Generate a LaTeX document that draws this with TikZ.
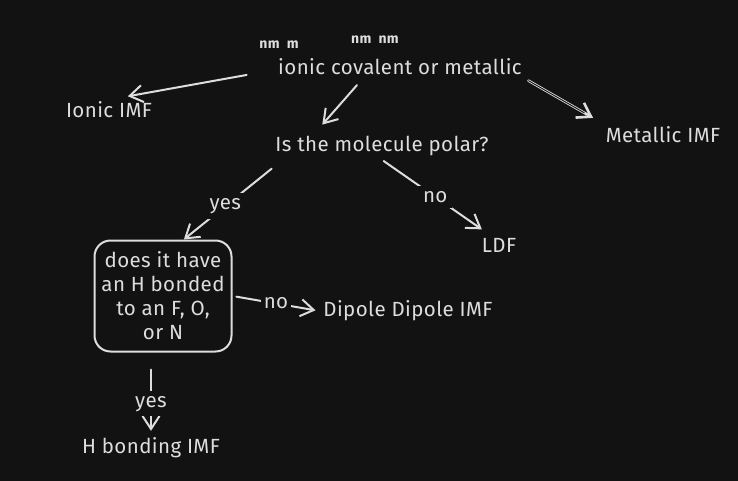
\documentclass[tikz,border=0pt]{standalone}
\usepackage{fontspec}
\setmainfont[LetterSpace=2]{Fira Sans}
\usetikzlibrary{arrows.meta,calc}
\definecolor{canvas}{HTML}{121212}
\definecolor{chalk}{HTML}{DDDDDD}

\begin{document}
\begin{tikzpicture}[x=1pt,y=-1pt,font=\fontsize{20.5}{24}\selectfont,
	every node/.style={text=chalk,inner sep=3pt},
	every path/.style={line width=2pt},
	flow/.style={draw=chalk,line cap=round,-{Straight Barb[length=13pt,width=17pt]}},
	tag/.style={fill=canvas,inner sep=5pt},
	stray/.style={font=\fontsize{14}{16}\selectfont\bfseries},
	query/.style={draw=chalk,rounded corners=16pt,minimum width=137pt,minimum height=111pt,inner sep=1pt,align=center}]
	\fill[canvas] (0,0) rectangle (738,481);
	\useasboundingbox (0,0) rectangle (738,481);

	\node (nmA) [stray] at (279,45) {nm\ \ m};
	\node (nmB) [stray] at (375,40) {nm\ \ nm};

	\node (top) at (400,67) {ionic covalent or metallic};
	\node (ionic) at (109,110) {Ionic IMF};
	\node (metal) at (663,135) {Metallic IMF};
	\node (polar) at (382,146) {Is the molecule polar?};
	\node (ldf) at (499,245) {LDF};
	\node (box) [query] at (163,296) {does it have\\an H bonded\\to an F, O,\\or N};
	\node (dipole) at (408,311) {Dipole Dipole IMF};
	\node (hbond) at (151,448) {H bonding IMF};

	\draw[flow,shorten <=28pt,shorten >=9pt] ([yshift=-3pt]top.west) -- ([xshift=10pt]ionic.north);
	\draw[flow,line width=2.6pt,shorten <=3pt,shorten >=10pt] (top.south east) -- (metal.north west);
	\draw[draw=canvas,line width=0.9pt,shorten <=3pt,shorten >=20pt] (top.south east) -- (metal.north west);
	\draw[flow,shorten <=8pt,shorten >=10pt] ($(top.south)!0.3!(top.south west)$) -- ($(polar.north)!0.6!(polar.north west)$);
	\draw[flow,shorten <=14pt] ($(polar.south)!0.9!(polar.south west)$) -- node[tag,pos=0.58]{yes} ($(box.north)!0.3!(box.north east)$);
	\draw[flow,shorten <=2pt,shorten >=8pt] (polar.south) -- node[tag]{no} ($(ldf.north)!0.5!(ldf.north west)$);
	\draw[flow,shorten <=4pt,shorten >=4pt] (box.east) -- node[tag,inner sep=3pt]{no} (dipole.west);
	\draw[flow,shorten <=17pt,shorten >=3pt] (box.south -| hbond.north) -- node[tag,pos=0.63]{yes} (hbond.north);
\end{tikzpicture}
\end{document}
